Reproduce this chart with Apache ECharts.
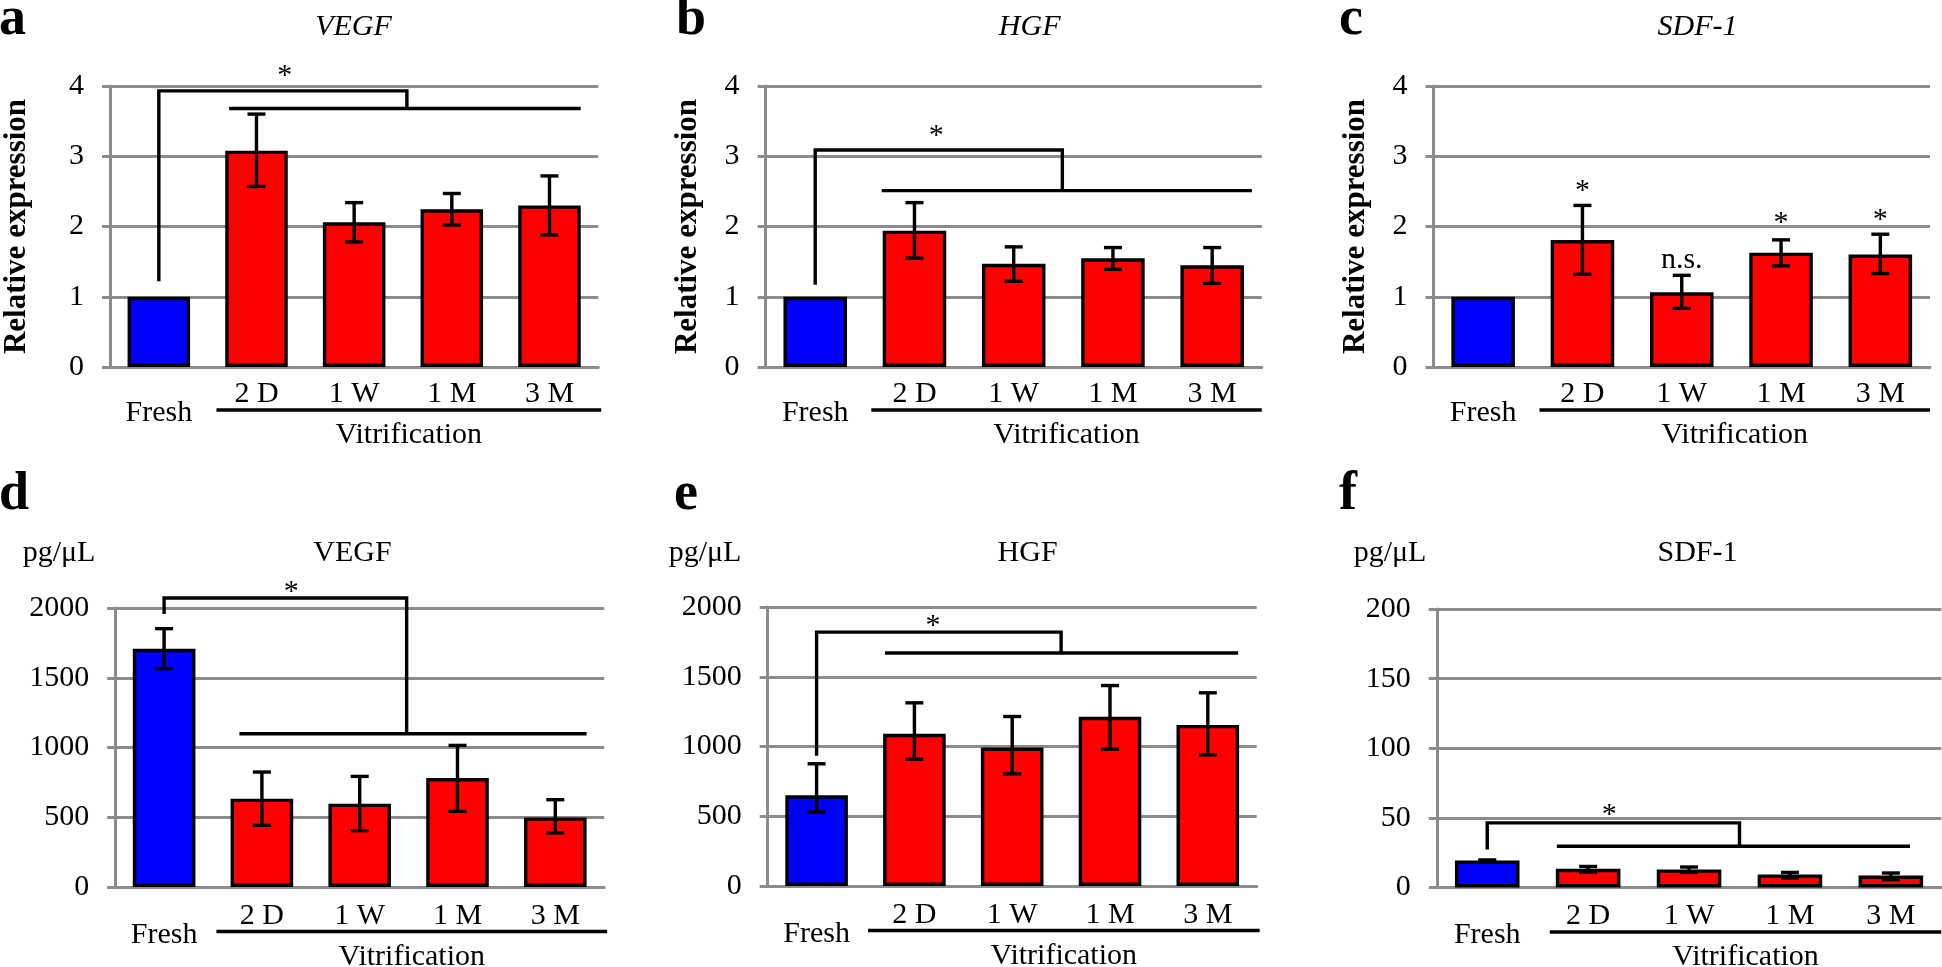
<!DOCTYPE html>
<html><head><meta charset="utf-8">
<style>html,body{margin:0;padding:0;background:#fff;}#chart{width:1942px;height:967px;}</style>
<script src="https://cdn.jsdelivr.net/npm/echarts@6/dist/echarts.min.js"></script>
</head><body><div id="chart"></div>
<script>
// ---------- data ----------
const categories = ['Fresh', '2 D', '1 W', '1 M', '3 M'];

const mrnaTicks = [0, 1, 2, 3, 4];
const proteinTicks = [0, 500, 1000, 1500, 2000];
const sdfProteinTicks = [0, 50, 100, 150, 200];

// a: VEGF relative expression
const vegfMrnaMean = [1, 3.08, 2.06, 2.245, 2.30];
const vegfMrnaHigh = [null, 3.60, 2.34, 2.47, 2.72];
const vegfMrnaLow  = [null, 2.57, 1.78, 2.02, 1.88];
// b: HGF relative expression
const hgfMrnaMean = [1, 1.94, 1.47, 1.547, 1.447];
const hgfMrnaHigh = [null, 2.34, 1.71, 1.70, 1.70];
const hgfMrnaLow  = [null, 1.55, 1.22, 1.39, 1.19];
// c: SDF-1 relative expression
const sdfMrnaMean = [1, 1.808, 1.063, 1.627, 1.60];
const sdfMrnaHigh = [null, 2.30, 1.305, 1.81, 1.89];
const sdfMrnaLow  = [null, 1.32, 0.835, 1.44, 1.33];
// d: VEGF pg/uL
const vegfProtMean = [1708, 633, 597, 781, 499];
const vegfProtHigh = [1852, 824, 793, 1015, 626];
const vegfProtLow  = [1565, 442, 404, 542, 387];
// e: HGF pg/uL
const hgfProtMean = [650, 1091, 993, 1213, 1155];
const hgfProtHigh = [876, 1313, 1215, 1437, 1385];
const hgfProtLow  = [530, 909, 804, 981, 940];
// f: SDF-1 pg/uL
const sdfProtMean = [19.3, 13.4, 13.0, 9.4, 8.6];
const sdfProtHigh = [19.8, 15.1, 14.7, 10.8, 10.4];
const sdfProtLow  = [18.8, 11.1, 10.8, 6.8, 5.6];

// significance brackets: [freshX, freshBottom, top, joinX, lowerLevel, lowerX1, lowerX2]
const vegfMrnaBracket = [0, 1.22, 3.93, 2.54, 3.68, 0.72, 4.32];
const hgfMrnaBracket  = [0, 1.17, 3.09, 2.49, 2.51, 0.67, 4.40];
const vegfProtBracket = [0, 1957, 2072, 2.48, 1099, 0.77, 4.32];
const hgfProtBracket  = [0, 933, 1820, 2.50, 1670, 0.70, 4.31];
const sdfProtBracket  = [0, 27.2, 46.4, 2.50, 29.6, 0.69, 4.19];

// significance marks: [x, y, text]
const vegfMrnaMarks = [[1.29, 4.23, '*']];
const hgfMrnaMarks  = [[1.22, 3.37, '*']];
const sdfMrnaMarks  = [[1, 2.59, '*'], [2, 1.50, 'n.s.'], [3, 2.14, '*'], [4, 2.18, '*']];
const vegfProtMarks = [[1.30, 2160, '*']];
const hgfProtMarks  = [[1.19, 1909, '*']];
const sdfProtMarks  = [[1.21, 56, '*']];

// ---------- layout / style ----------
const GRAY = '#8c8c8c';
const FF = '"Liberation Serif", "Times New Roman", serif';
const BLUE = '#0000ff', RED = '#ff0000';
const LW = 3.4;

const panels = [
  {mean: vegfMrnaMean, hi: vegfMrnaHigh, lo: vegfMrnaLow, ticks: mrnaTicks, bracket: vegfMrnaBracket, marks: vegfMrnaMarks,
   grid: {left: 102.8, top: 86, width: 495.5, height: 281}, yName: 'Relative expression', nameGap: 78,
   vitr: [0.59, 4.53], lineOff: 43, textOff: 68, labelMargin: 12},
  {mean: hgfMrnaMean, hi: hgfMrnaHigh, lo: hgfMrnaLow, ticks: mrnaTicks, bracket: hgfMrnaBracket, marks: hgfMrnaMarks,
   grid: {left: 765.6, top: 86, width: 496.2, height: 281}, yName: 'Relative expression', nameGap: 62,
   vitr: [0.565, 4.5], lineOff: 43, textOff: 68, labelMargin: 12},
  {mean: sdfMrnaMean, hi: sdfMrnaHigh, lo: sdfMrnaLow, ticks: mrnaTicks, bracket: null, marks: sdfMrnaMarks,
   grid: {left: 1433.5, top: 86, width: 496.5, height: 281}, yName: 'Relative expression', nameGap: 62,
   vitr: [0.567, 4.5], lineOff: 43, textOff: 68, labelMargin: 12},
  {mean: vegfProtMean, hi: vegfProtHigh, lo: vegfProtLow, ticks: proteinTicks, bracket: vegfProtBracket, marks: vegfProtMarks,
   grid: {left: 115.2, top: 608, width: 489, height: 279}, yName: '', nameGap: 0,
   vitr: [0.535, 4.53], lineOff: 44.5, textOff: 70, labelMargin: 14},
  {mean: hgfProtMean, hi: hgfProtHigh, lo: hgfProtLow, ticks: proteinTicks, bracket: hgfProtBracket, marks: hgfProtMarks,
   grid: {left: 767.7, top: 607, width: 489, height: 279}, yName: '', nameGap: 0,
   vitr: [0.525, 4.53], lineOff: 44.5, textOff: 70, labelMargin: 14},
  {mean: sdfProtMean, hi: sdfProtHigh, lo: sdfProtLow, ticks: sdfProteinTicks, bracket: sdfProtBracket, marks: sdfProtMarks,
   grid: {left: 1436.8, top: 609, width: 504.5, height: 278.5}, yName: '', nameGap: 0,
   vitr: [0.62, 4.5], lineOff: 44.5, textOff: 70, labelMargin: 14}
];

const grids = [], xAxes = [], yAxes = [], series = [];

panels.forEach(function (p, i) {
  grids.push(Object.assign({containLabel: false}, p.grid));
  xAxes.push({
    type: 'category', gridIndex: i, data: categories,
    axisLine: {show: true, onZero: false, lineStyle: {color: GRAY, width: 3}},
    axisTick: {show: false},
    axisLabel: {
      interval: 0, margin: p.labelMargin, color: '#000', fontFamily: FF, fontSize: 30,
      formatter: function (v) { return v === 'Fresh' ? '{f|' + v + '}' : '{n|' + v + '}'; },
      rich: {
        f: {fontFamily: FF, fontSize: 30, color: '#000', lineHeight: 30, padding: [38, 0, 0, 0]},
        n: {fontFamily: FF, fontSize: 30, color: '#000', lineHeight: 30}
      }
    },
    splitLine: {show: false}
  });
  xAxes.push({type: 'value', gridIndex: i, min: -0.5, max: 4.5, show: false});
  const t = p.ticks;
  yAxes.push({
    type: 'value', gridIndex: i, min: t[0], max: t[t.length - 1], interval: t[1] - t[0],
    axisLine: {show: true, onZero: false, lineStyle: {color: GRAY, width: 3}},
    axisTick: {show: true, length: 8, inside: false, lineStyle: {color: GRAY, width: 3}},
    splitLine: {show: true, lineStyle: {color: GRAY, width: 3}},
    axisLabel: {margin: 26, color: '#000', fontFamily: FF, fontSize: 30,
                formatter: function (v) { return String(v); }},
    name: p.yName, nameLocation: 'middle', nameRotate: 90, nameGap: p.nameGap,
    nameTextStyle: {fontFamily: FF, fontSize: 31, fontWeight: 'bold', color: '#000'}
  });

  series.push({
    type: 'bar', xAxisIndex: 2 * i, yAxisIndex: i, data: p.mean, barWidth: '64%', z: 2,
    itemStyle: {
      color: function (prm) { return prm.dataIndex === 0 ? BLUE : RED; },
      borderColor: '#000', borderWidth: LW
    },
    emphasis: {disabled: true}, animation: false
  });

  const errData = [];
  p.mean.forEach(function (m, k) { if (p.hi[k] != null) errData.push([k, p.lo[k], p.hi[k]]); });
  series.push({
    type: 'custom', xAxisIndex: 2 * i + 1, yAxisIndex: i, z: 3, data: errData, animation: false, clip: false,
    renderItem: function (params, api) {
      const x = api.value(0);
      const a = api.coord([x, api.value(1)]), b = api.coord([x, api.value(2)]);
      const w = 9, st = {stroke: '#000', lineWidth: LW};
      return {type: 'group', children: [
        {type: 'line', shape: {x1: a[0], y1: a[1], x2: b[0], y2: b[1]}, style: st},
        {type: 'line', shape: {x1: b[0] - w, y1: b[1], x2: b[0] + w, y2: b[1]}, style: st},
        {type: 'line', shape: {x1: a[0] - w, y1: a[1], x2: a[0] + w, y2: a[1]}, style: st}
      ]};
    }
  });

  series.push({
    type: 'custom', xAxisIndex: 2 * i + 1, yAxisIndex: i, z: 4, data: [[0, 0]], animation: false, clip: false,
    renderItem: function (params, api) {
      const ch = [];
      const st = {stroke: '#000', lineWidth: LW, fill: 'none'};
      const br = p.bracket;
      if (br) {
        const p1 = api.coord([br[0], br[1]]), p2 = api.coord([br[0], br[2]]);
        const p3 = api.coord([br[3], br[2]]), p4 = api.coord([br[3], br[4]]);
        const q1 = api.coord([br[5], br[4]]), q2 = api.coord([br[6], br[4]]);
        ch.push({type: 'polyline', shape: {points: [p1, p2, p3, p4]}, style: st});
        ch.push({type: 'line', shape: {x1: q1[0], y1: q1[1], x2: q2[0], y2: q2[1]}, style: st});
      }
      p.marks.forEach(function (m) {
        const c = api.coord([m[0], m[1]]);
        const off = m[2] === '*' ? 6 : -2;
        ch.push({type: 'text', x: c[0], y: c[1] + off,
          style: {text: m[2], fill: '#000', font: '30px ' + FF,
                  align: 'center', verticalAlign: 'middle', textAlign: 'center', textVerticalAlign: 'middle'}});
      });
      const v1 = api.coord([p.vitr[0], 0]), v2 = api.coord([p.vitr[1], 0]);
      ch.push({type: 'line', shape: {x1: v1[0], y1: v1[1] + p.lineOff, x2: v2[0], y2: v1[1] + p.lineOff},
               style: {stroke: '#000', lineWidth: LW}});
      ch.push({type: 'text', x: (v1[0] + v2[0]) / 2, y: v1[1] + p.textOff,
        style: {text: 'Vitrification', fill: '#000', font: '30px ' + FF,
                align: 'center', verticalAlign: 'middle', textAlign: 'center', textVerticalAlign: 'middle'}});
      return {type: 'group', children: ch};
    }
  });
});

function txt(text, x, y, font, align) {
  return {type: 'text', x: x, y: y, z: 10,
    style: {text: text, fill: '#000', font: font, align: align || 'center', verticalAlign: 'middle',
            textAlign: align || 'center', textVerticalAlign: 'middle'}};
}
const LET = 'bold 54px ' + FF;
const TI = 'italic 30px ' + FF;
const TN = '30px ' + FF;
const graphics = [
  txt('a', -1, 20.5, LET, 'left'), txt('b', 676, 20.5, LET, 'left'), txt('c', 1339, 20.5, LET, 'left'),
  txt('d', -1, 495, LET, 'left'), txt('e', 674, 495, LET, 'left'), txt('f', 1339, 495, LET, 'left'),
  txt('VEGF', 353.5, 27, TI), txt('HGF', 1029.7, 27, TI), txt('SDF-1', 1697.5, 27, TI),
  txt('VEGF', 352.4, 553.5, TN), txt('HGF', 1027.6, 553.5, TN), txt('SDF-1', 1697.5, 553.5, TN),
  txt('pg/μL', 59, 553.5, TN), txt('pg/μL', 705, 553.5, TN), txt('pg/μL', 1390, 553.5, TN)
];

const chart = echarts.init(document.getElementById('chart'), null, {renderer: 'canvas'});
chart.setOption({
  backgroundColor: '#fff',
  animation: false,
  grid: grids, xAxis: xAxes, yAxis: yAxes, series: series,
  graphic: graphics
});
</script></body></html>
